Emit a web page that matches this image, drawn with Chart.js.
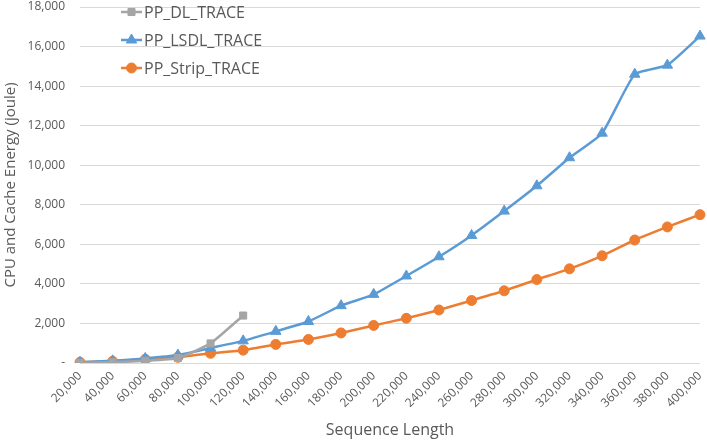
<!DOCTYPE html>
<html>
<head>
<meta charset="utf-8">
<script src="https://cdn.jsdelivr.net/npm/chart.js@4/dist/chart.umd.min.js"></script>
<style>
  html, body { margin: 0; padding: 0; background: #fff; }
  #wrap { width: 707px; height: 442px; position: relative; }
</style>
</head>
<body>
<div id="wrap"><canvas id="c" width="707" height="442"></canvas></div>
<script>
const categories = ['20,000','40,000','60,000','80,000','100,000','120,000','140,000','160,000','180,000','200,000',
  '220,000','240,000','260,000','280,000','300,000','320,000','340,000','360,000','380,000','400,000'];
const dlTrace = [5, 40, 110, 250, 990, 2400, null, null, null, null, null, null, null, null, null, null, null, null, null, null];
const lsdlTrace = [40, 110, 230, 400, 760, 1120, 1600, 2100, 2900, 3470, 4400, 5370, 6450, 7680, 8960, 10380, 11620, 14600, 15060, 16530];
const stripTrace = [35, 85, 185, 290, 490, 650, 940, 1190, 1520, 1900, 2260, 2680, 3160, 3650, 4220, 4760, 5420, 6220, 6880, 7500];
const yTicks = [0, 2000, 4000, 6000, 8000, 10000, 12000, 14000, 16000, 18000];

const seriesNames = ['PP_DL_TRACE', 'PP_LSDL_TRACE', 'PP_Strip_TRACE'];
const colors = ['#A5A5A5', '#5B9BD5', '#ED7D31'];
const styles = ['rect', 'triangle', 'circle'];
const radii = [5, 6, 5];
const FONT = 'Open Sans';
const TXT = '#595959';

const legendPlugin = {
  id: 'customLegend',
  afterDraw(chart) {
    const ctx = chart.ctx;
    const x0 = 121, ys = [12, 40, 68];
    ctx.save();
    chart.data.datasets.forEach((ds, i) => {
      const y = ys[i];
      ctx.strokeStyle = ds.borderColor;
      ctx.lineWidth = 2.5;
      ctx.beginPath(); ctx.moveTo(x0, y); ctx.lineTo(x0 + 21, y); ctx.stroke();
      ctx.fillStyle = ds.backgroundColor;
      ctx.strokeStyle = ds.borderColor;
      ctx.lineWidth = 1;
      Chart.helpers.drawPoint(ctx, { pointStyle: ds.pointStyle, radius: ds.pointRadius, borderWidth: 1, rotation: 0 }, x0 + 10.5, y);
      ctx.fillStyle = TXT;
      ctx.font = '16px "' + FONT + '"';
      ctx.textBaseline = 'middle';
      ctx.textAlign = 'left';
      ctx.fillText(ds.label, x0 + 23, y + 1);
    });
    ctx.restore();
  }
};

const data = [dlTrace, lsdlTrace, stripTrace];
new Chart(document.getElementById('c'), {
  type: 'line',
  data: {
    labels: categories,
    datasets: seriesNames.map((n, i) => ({
      label: n,
      data: data[i],
      borderColor: colors[i],
      backgroundColor: colors[i],
      borderWidth: 2.5,
      pointStyle: styles[i],
      pointRadius: radii[i],
      pointBorderWidth: 1,
      tension: 0.15,
      spanGaps: false
    }))
  },
  options: {
    responsive: false,
    animation: false,
    layout: { padding: { top: 5, right: 5, left: 0, bottom: 0 } },
    plugins: { legend: { display: false }, tooltip: { enabled: false } },
    scales: {
      x: {
        offset: false,
        grid: { display: false, drawTicks: false },
        border: { display: false },
        ticks: {
          color: TXT, font: { family: FONT, size: 12 },
          minRotation: 45, maxRotation: 45, autoSkip: false, padding: 6
        },
        title: { display: true, text: 'Sequence Length', color: TXT, font: { family: FONT, size: 16 }, padding: { top: 0, bottom: 2 } },
        afterFit(s) { s.height = 79; s.paddingLeft = 0; s.paddingRight = 0; s.paddingTop = 0; s.paddingBottom = 0; }
      },
      y: {
        min: 0, max: 18000,
        afterBuildTicks(s) { s.ticks = yTicks.map(v => ({ value: v })); },
        grid: { color: '#D9D9D9', lineWidth: 1, drawTicks: false },
        border: { display: false },
        ticks: {
          color: TXT, font: { family: FONT, size: 12 }, padding: 15,
          callback: v => v === 0 ? '-' : v.toLocaleString('en-US')
        },
        title: { display: true, text: 'CPU and Cache Energy (joule)', color: TXT, font: { family: FONT, size: 15 }, padding: { top: 2, bottom: 0 } },
        afterFit(s) { s.width = 80; s.paddingTop = 0; s.paddingBottom = 0; s.paddingLeft = 0; s.paddingRight = 0; }
      }
    }
  },
  plugins: [legendPlugin]
});
</script>
</body>
</html>
